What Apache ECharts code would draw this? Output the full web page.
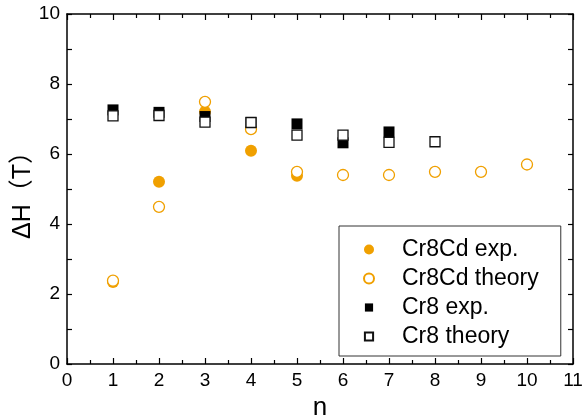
<!DOCTYPE html>
<html>
<head>
<meta charset="utf-8">
<script src="https://cdn.jsdelivr.net/npm/echarts@6.0.0/dist/echarts.min.js"></script>
<style>
  html, body { margin: 0; padding: 0; background: #fff; }
  #chart { width: 586px; height: 419px; }
</style>
</head>
<body>
<div id="chart"></div>
<script>
// 数据
const nCr8Cd = [1, 2, 3, 4, 5];
const cr8CdExp = [2.34, 5.21, 7.21, 6.09, 5.38];
const nCr8CdTheory = [1, 2, 3, 4, 5, 6, 7, 8, 9, 10];
const cr8CdTheory = [2.38, 4.49, 7.49, 6.71, 5.49, 5.40, 5.40, 5.49, 5.49, 5.70];
const nCr8 = [1, 2, 3, 4, 5, 6, 7];
const cr8Exp = [7.26, 7.19, 7.07, 6.90, 6.86, 6.32, 6.63];
const nCr8Theory = [1, 2, 3, 4, 5, 6, 7, 8];
const cr8Theory = [7.09, 7.10, 6.91, 6.90, 6.54, 6.54, 6.33, 6.35];
const legendNames = ['Cr8Cd exp.', 'Cr8Cd theory', 'Cr8 exp.', 'Cr8 theory'];

const ORANGE = '#F0A000';
const FONT = '"Liberation Sans", Arial, sans-serif';

const zip = (xs, ys) => xs.map((x, i) => [x, ys[i]]);
// 方形图例图标，留出边距使其比圆形略小
const squareIcon = 'path://M0 0M1 1H10V10H1ZM11 11';

const chart = echarts.init(document.getElementById('chart'));

const frameAxis = {
  axisLine: { show: true, onZero: false, lineStyle: { color: '#000', width: 1.5 } },
  axisTick: { show: true, inside: true, length: 6, lineStyle: { color: '#000', width: 1.2 } },
  minorTick: { show: true, splitNumber: 2, length: 4, lineStyle: { color: '#000', width: 1.2 } },
  splitLine: { show: false },
  minorSplitLine: { show: false }
};

chart.setOption({
  animation: false,
  backgroundColor: '#fff',
  grid: { left: 67, right: 13, top: 14, bottom: 55, outerBoundsMode: 'none', containLabel: false },
  legend: {
    orient: 'vertical',
    left: 339,
    top: 226,
    padding: [12, 22, 8, 24],
    itemWidth: 56,
    itemHeight: 10,
    itemGap: 6,
    borderColor: '#333',
    borderWidth: 1,
    backgroundColor: '#fff',
    textStyle: { fontFamily: FONT, fontSize: 23, color: '#000', lineHeight: 22 },
    data: [
      { name: legendNames[0], icon: 'circle' },
      { name: legendNames[1], icon: 'circle' },
      { name: legendNames[2], icon: squareIcon },
      { name: legendNames[3], icon: squareIcon }
    ]
  },
  xAxis: [
    Object.assign({}, frameAxis, {
      type: 'value', min: 0, max: 11, interval: 1,
      name: 'n', nameLocation: 'middle', nameGap: 31,
      nameTextStyle: { fontFamily: FONT, fontSize: 26, color: '#000' },
      axisLabel: { fontFamily: FONT, fontSize: 19, color: '#000', margin: 7 }
    }),
    Object.assign({}, frameAxis, {
      type: 'value', min: 0, max: 11, interval: 1, position: 'top',
      axisLabel: { show: false }
    })
  ],
  yAxis: [
    Object.assign({}, frameAxis, {
      type: 'value', min: 0, max: 10, interval: 2,
      minorTick: Object.assign({}, frameAxis.minorTick, { length: 5 }),
      axisTick: Object.assign({}, frameAxis.axisTick, { length: 5 }),
      name: 'ΔH（T）', nameLocation: 'middle', nameGap: 31, nameRotate: 90,
      nameMoveOverlap: false,
      nameTextStyle: {
        fontFamily: '"Liberation Sans", "Noto Sans CJK SC", sans-serif',
        fontSize: 25, color: '#000'
      },
      axisLabel: { fontFamily: FONT, fontSize: 19, color: '#000', margin: 7 }
    }),
    Object.assign({}, frameAxis, {
      type: 'value', min: 0, max: 10, interval: 2, position: 'right',
      minorTick: Object.assign({}, frameAxis.minorTick, { length: 5 }),
      axisTick: Object.assign({}, frameAxis.axisTick, { length: 5 }),
      axisLabel: { show: false }
    })
  ],
  series: [
    {
      name: legendNames[0], type: 'scatter', symbol: 'circle', symbolSize: 12,
      itemStyle: { color: ORANGE, opacity: 1 },
      data: zip(nCr8Cd, cr8CdExp)
    },
    {
      name: legendNames[1], type: 'scatter', symbol: 'circle', symbolSize: 11,
      itemStyle: { color: '#fff', borderColor: ORANGE, borderWidth: 1.3, opacity: 1 },
      data: zip(nCr8CdTheory, cr8CdTheory)
    },
    {
      name: legendNames[2], type: 'scatter', symbol: 'rect', symbolSize: 11,
      itemStyle: { color: '#000', opacity: 1 },
      data: zip(nCr8, cr8Exp)
    },
    {
      name: legendNames[3], type: 'scatter', symbol: 'rect', symbolSize: 10,
      itemStyle: { color: '#fff', borderColor: '#111', borderWidth: 1.3, opacity: 1 },
      data: zip(nCr8Theory, cr8Theory)
    }
  ]
});
</script>
</body>
</html>
